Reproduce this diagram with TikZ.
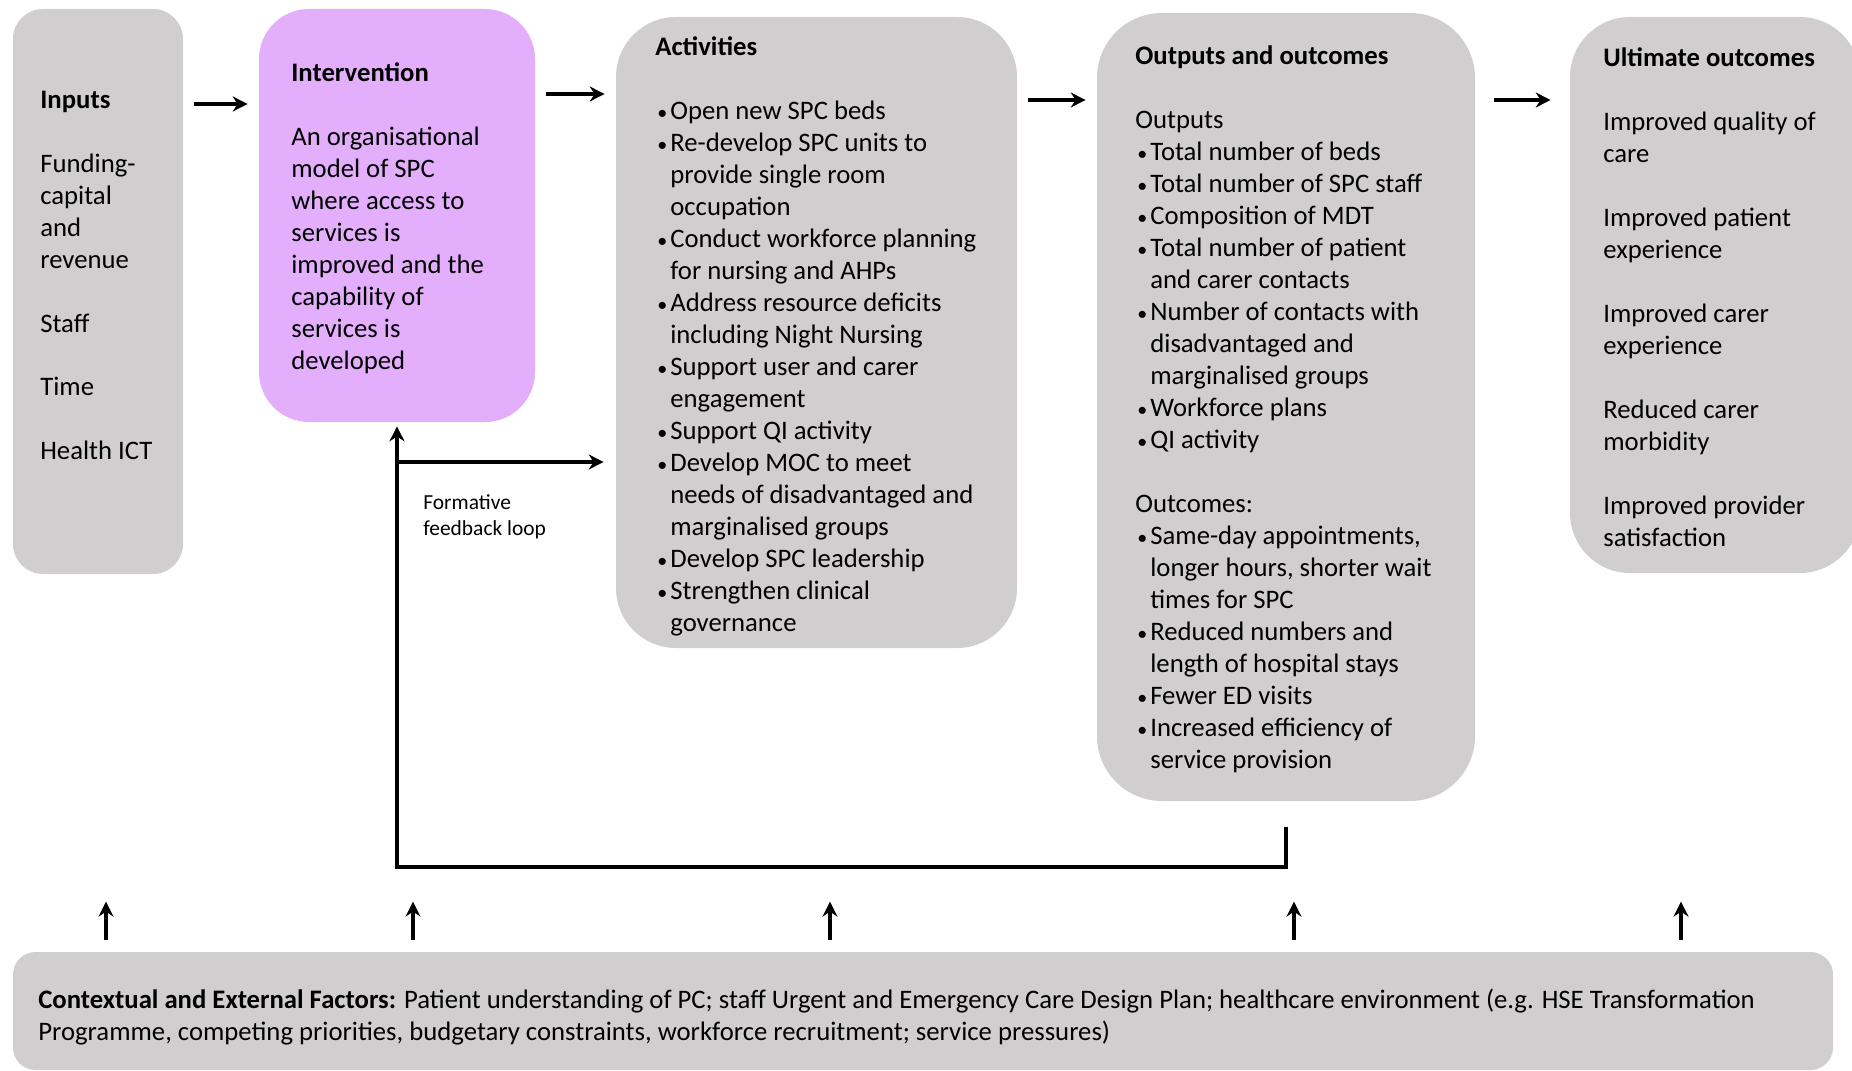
\documentclass[tikz,border=0pt]{standalone}
\usepackage{fontspec}
\setmainfont{Carlito}
\usepackage{xcolor}
\usepackage{graphicx}
\usetikzlibrary{arrows.meta, calc, positioning, fit}
\definecolor{boxgrey}{HTML}{D0CECE}
\definecolor{lilac}{HTML}{E3AFFC}
\newcommand{\bl}{\makebox[0.3cm][l]{\hspace{0.04cm}\scalebox{0.75}{\textbullet}}}
\newcommand{\ind}{\hspace*{0.3cm}}

\begin{document}
\begin{tikzpicture}[
    x=0.02cm, y=-0.02cm,
    >={Stealth[length=8.5pt, width=8.5pt]},
    every node/.style={font=\fontsize{15.2}{18.2}\selectfont},
    greybox/.style={fill=boxgrey, inner sep=0pt},
    txt/.style={anchor=north west, align=left, inner sep=0pt, execute at begin node=\strut},
    flow/.style={->, line width=2.3pt, shorten <=0.22cm, shorten >=0.22cm},
    fb/.style={line width=2.7pt},
    up/.style={->, line width=1.9pt},
]
\useasboundingbox (0,0) rectangle (1852,1071);
% the five columns and the context bar
\node[greybox, rounded corners=0.6cm, fit={(13,9) (183,574)}] (inputs) {};
\node[greybox, fill=lilac, rounded corners=1.0cm, fit={(259,9) (535,422)}] (inter) {};
\node[greybox, rounded corners=1.2cm, fit={(616,17) (1017,648)}] (acts) {};
\node[greybox, rounded corners=1.3cm, fit={(1097,13) (1475,801)}] (outputs) {};
\node[greybox, rounded corners=1.2cm, fit={(1570,17) (1860,573)}] (ultimate) {};
\node[greybox, rounded corners=0.45cm, fit={(13,952) (1833,1070)}] (context) {};

% texts (placed by the top of the first line's strut)
\node[txt] (t-inputs) at (40,90.5) {\textbf{Inputs}\\[18.2pt]
  Funding-\\capital\\and\\revenue\\[18.2pt]
  Staff\\[18.2pt]
  Time\\[18.2pt]
  Health ICT};
\node[txt] (t-inter) at (291,62.5) {\textbf{Intervention}\\[18.2pt]
  An organisational\\model of SPC\\where access to\\services is\\improved and the\\capability of\\services is\\developed};
\node[txt] (t-acts) at (655,36.5) {\textbf{Activities}\\[18.2pt]
  \bl Open new SPC beds\\
  \bl Re-develop SPC units to\\
  \ind provide single room\\
  \ind occupation\\
  \bl Conduct workforce planning\\
  \ind for nursing and AHPs\\
  \bl Address resource deficits\\
  \ind including Night Nursing\\
  \bl Support user and carer\\
  \ind engagement\\
  \bl Support QI activity\\
  \bl Develop MOC to meet\\
  \ind needs of disadvantaged and\\
  \ind marginalised groups\\
  \bl Develop SPC leadership\\
  \bl Strengthen clinical\\
  \ind governance};
\node[txt] (t-outputs) at (1135,45.5) {\textbf{Outputs and outcomes}\\[18.2pt]
  Outputs\\
  \bl Total number of beds\\
  \bl Total number of SPC staff\\
  \bl Composition of MDT\\
  \bl Total number of patient\\
  \ind and carer contacts\\
  \bl Number of contacts with\\
  \ind disadvantaged and\\
  \ind marginalised groups\\
  \bl Workforce plans\\
  \bl QI activity\\[18.2pt]
  Outcomes:\\
  \bl Same-day appointments,\\
  \ind longer hours, shorter wait\\
  \ind times for SPC\\
  \bl Reduced numbers and\\
  \ind length of hospital stays\\
  \bl Fewer ED visits\\
  \bl Increased efficiency of\\
  \ind service provision};
\node[txt] (t-ultimate) at (1603,47.5) {\textbf{Ultimate outcomes}\\[18.2pt]
  Improved quality of\\care\\[18.2pt]
  Improved patient\\experience\\[18.2pt]
  Improved carer\\experience\\[18.2pt]
  Reduced carer\\morbidity\\[18.2pt]
  Improved provider\\satisfaction};
\node[txt] (t-context) at (38,988.5) {\textbf{Contextual and External Factors:} Patient understanding of PC; staff Urgent and Emergency Care Design Plan; healthcare environment (e.g. HSE Transformation\\
  Programme, competing priorities, budgetary constraints, workforce recruitment; service pressures)};
\node[txt, font=\fontsize{12.2}{14.8}\selectfont] (t-loop) at (423,494.7) {Formative\\feedback loop};

% main flow
\draw[flow] (inputs.east |- 0,104) -- (inter.west |- 0,104);
\draw[flow] (inter.east |- 0,94) -- (acts.west |- 0,94);
\draw[flow] (acts.east |- 0,100) -- (outputs.west |- 0,100);
\draw[flow, shorten <=0.38cm, shorten >=0.38cm] (outputs.east |- 0,100) -- (ultimate.west |- 0,100);

% formative feedback loop
\coordinate (fbr) at ($(outputs.south)+(0,26)$);
\coordinate (fbl) at (inter.south |- 0,867);
\draw[fb, ->, shorten >=0.08cm] (fbr) |- (fbl) -- (inter.south);
\draw[fb, ->, shorten >=0.24cm] (inter.south |- 0,462) -- (acts.west |- 0,462);

% context pushes up on every column
\foreach \x in {106,413,830,1294,1681}
  \draw[up] ($(context.north -| \x,0)+(0,-12)$) -- ++(0,-38);
\end{tikzpicture}
\end{document}
